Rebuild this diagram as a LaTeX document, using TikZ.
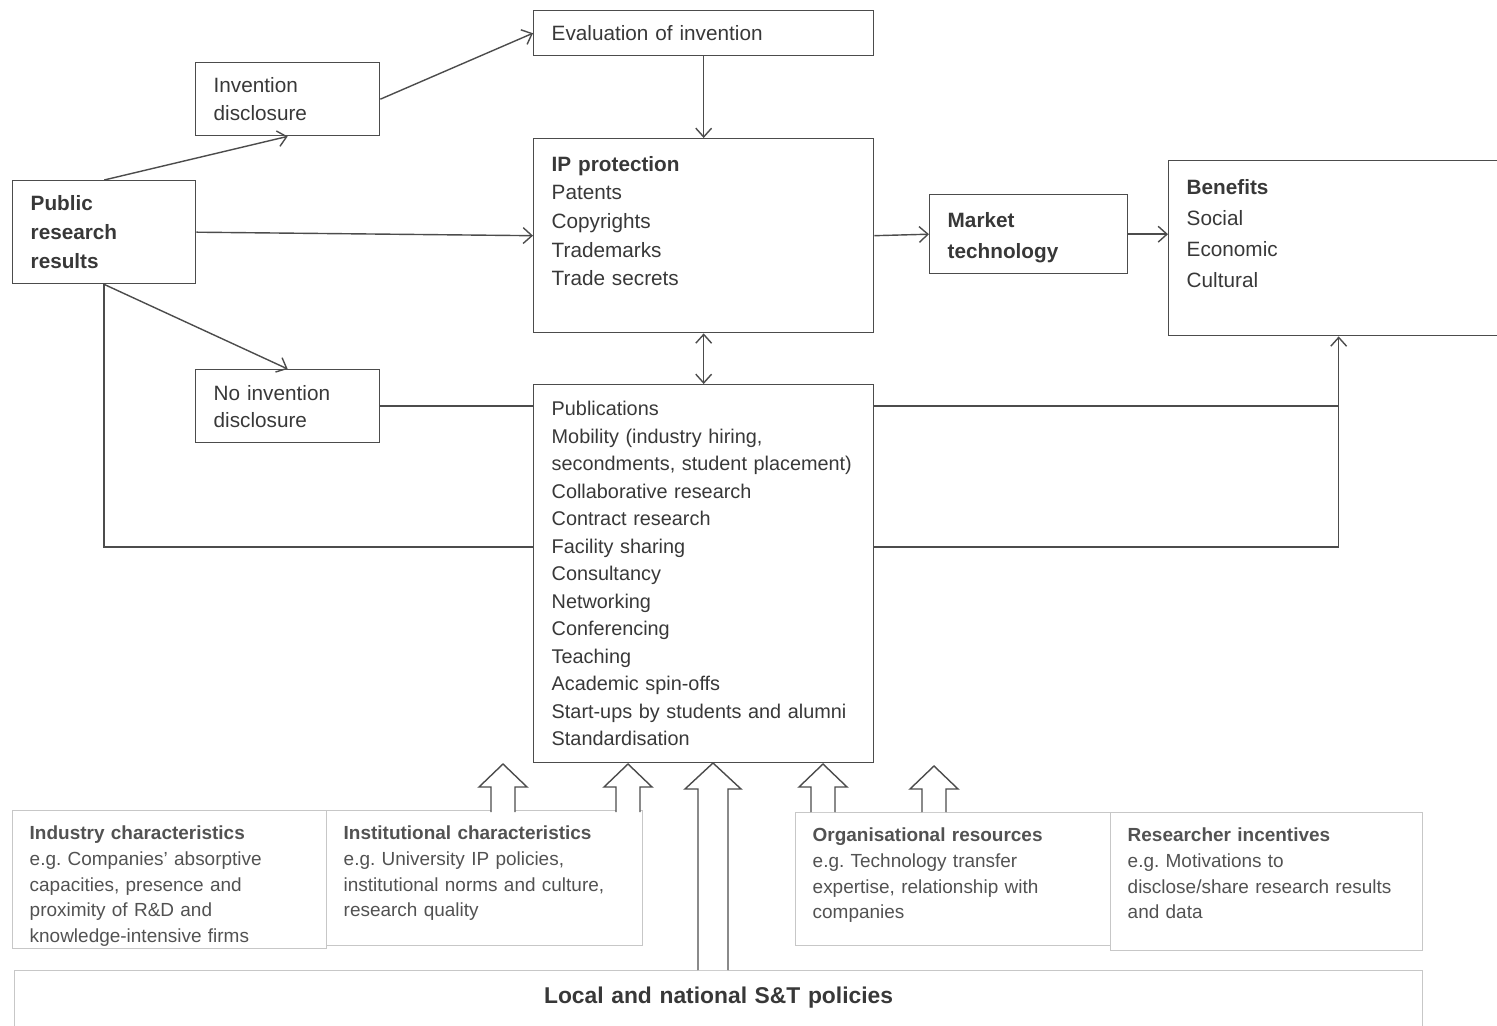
\documentclass[tikz,border=0pt]{standalone}
\usepackage{fontspec}
\setmainfont{Liberation Sans}
\usetikzlibrary{arrows.meta}
\definecolor{linegray}{gray}{0.3}
\definecolor{textgray}{gray}{0.22}
\definecolor{palegray}{gray}{0.78}
\definecolor{softtext}{gray}{0.32}

\begin{document}
\begin{tikzpicture}[x=0.02cm,y=-0.02cm,
	box/.style={draw=linegray,line width=0.8pt,anchor=north west,align=left,inner xsep=0.36cm,inner ysep=0pt,text=textgray},
	factor/.style={draw=palegray,line width=0.8pt,anchor=north west,align=left,inner xsep=0.34cm,inner ysep=0.3cm,text=softtext,font=\fontsize{10.8}{14.7}\selectfont},
	conn/.style={draw=linegray,line width=0.8pt},
	arr/.style={conn,-{Straight Barb[length=5pt,width=9pt]}},
	arrboth/.style={conn,{Straight Barb[length=5pt,width=9pt]}-{Straight Barb[length=5pt,width=9pt]}},
	blockarr/.style={draw=linegray,line width=0.8pt,fill=white}]
			\useasboundingbox (0,0) rectangle (1497,1026);
			
			\node[box,text width=6.08cm,minimum height=0.9cm,font=\fontsize{11.8}{16}\selectfont] (eval)at(533,10) {Evaluation of invention};
			\node[box,text width=2.96cm,minimum height=1.46cm,font=\fontsize{11.8}{15.9}\selectfont] (inv)at(195,62) {Invention\\disclosure};
			\node[box,text width=2.94cm,minimum height=2.06cm,font=\bfseries\fontsize{11.8}{16.4}\selectfont] (pub)at(12,180) {Public\\research\\results};
			\node[box,text width=6.08cm,inner ysep=0.35cm,text depth=2.88cm,font=\fontsize{11.8}{16.3}\selectfont] (ip)at(533,138) {\textbf{IP protection}\\Patents\\Copyrights\\Trademarks\\Trade secrets};
			\node[box,text width=3.24cm,inner ysep=0.36cm,text depth=0.56cm,font=\bfseries\fontsize{11.8}{17.6}\selectfont] (market)at(929,194) {Market\\technology};
			\node[box,text width=6.08cm,inner ysep=0.37cm,text depth=2.46cm,font=\fontsize{11.8}{17.75}\selectfont] (ben)at(1168,160) {\textbf{Benefits}\\Social\\Economic\\Cultural};
			\node[box,text width=2.96cm,minimum height=1.46cm,font=\fontsize{11.8}{15.3}\selectfont] (noinv)at(195,369) {No invention\\disclosure};
			\node[box,text width=6.08cm,minimum height=7.56cm,font=\fontsize{11.3}{15.65}\selectfont] (chan)at(533,384) {Publications\\Mobility (industry hiring,\\secondments, student placement)\\Collaborative research\\Contract research\\Facility sharing\\Consultancy\\Networking\\Conferencing\\Teaching\\Academic spin-offs\\Start-ups by students and alumni\\Standardisation};
			
			\node[factor,text width=5.6cm,text depth=1.88cm] (ind)at(12,810) {\textbf{Industry characteristics}\\e.g.\ Companies' absorptive\\capacities, presence and\\proximity of R\&D and\\knowledge-intensive firms};
			\node[factor,text width=5.64cm,text depth=1.82cm] (inst)at(326,810) {\textbf{Institutional characteristics}\\e.g.\ University IP policies,\\institutional norms and culture,\\research quality};
			\node[factor,text width=5.62cm,text depth=1.78cm] (org)at(795,812) {\textbf{Organisational resources}\\e.g.\ Technology transfer\\expertise, relationship with\\companies};
			\node[factor,text width=5.56cm,text depth=1.88cm] (res)at(1110,812) {\textbf{Researcher incentives}\\e.g.\ Motivations to\\disclose/share research results\\and data};
			\node[factor,align=center,inner ysep=0.32cm,text depth=1cm,text width=27.48cm,text=textgray,font=\bfseries\fontsize{13}{16}\selectfont] (pol)at(14,970) {Local and national S\&T policies};
			
			\coordinate (ml) at (533,547);
			\coordinate (mr) at (873,547);
			
			\draw[arr] (pub.north) -- (inv.south);
			\draw[arr] (inv.east) -- (eval.west);
			\draw[arr] (eval) -- (ip);
			\draw[arr] (pub.east) -- (ip.west);
			\draw[arr] (pub.south) -- (noinv.north);
			\draw[arrboth] (ip) -- (chan);
			\draw[arr] (ip.east) -- (market.west);
			\draw[arr] (market.east) -- (market.east -| ben.west);
			\draw[conn] (noinv.east) -- (noinv.east -| chan.west);
			\draw[conn] (pub.south) |- (ml);
			\draw[arr] (chan.east |- noinv.east) -| (ben.south);
			\draw[conn] (mr) -| (ben.south |- noinv.east);
			
			\draw[blockarr] (491,812) -- (491,787) -- (479,787) -- (503,764) -- (527,787) -- (515,787) -- (515,812);
			\draw[blockarr] (616,812) -- (616,787) -- (604,787) -- (628,764) -- (652,787) -- (640,787) -- (640,812);
			\draw[blockarr] (811,812) -- (811,787) -- (799,787) -- (823,764) -- (847,787) -- (835,787) -- (835,812);
			\draw[blockarr] (922,812) -- (922,789) -- (910,789) -- (934,766) -- (958,789) -- (946,789) -- (946,812);
			\draw[blockarr] (698,970) -- (698,789) -- (685,789) -- (713,763) -- (741,789) -- (728,789) -- (728,970);
		\end{tikzpicture}
\end{document}
